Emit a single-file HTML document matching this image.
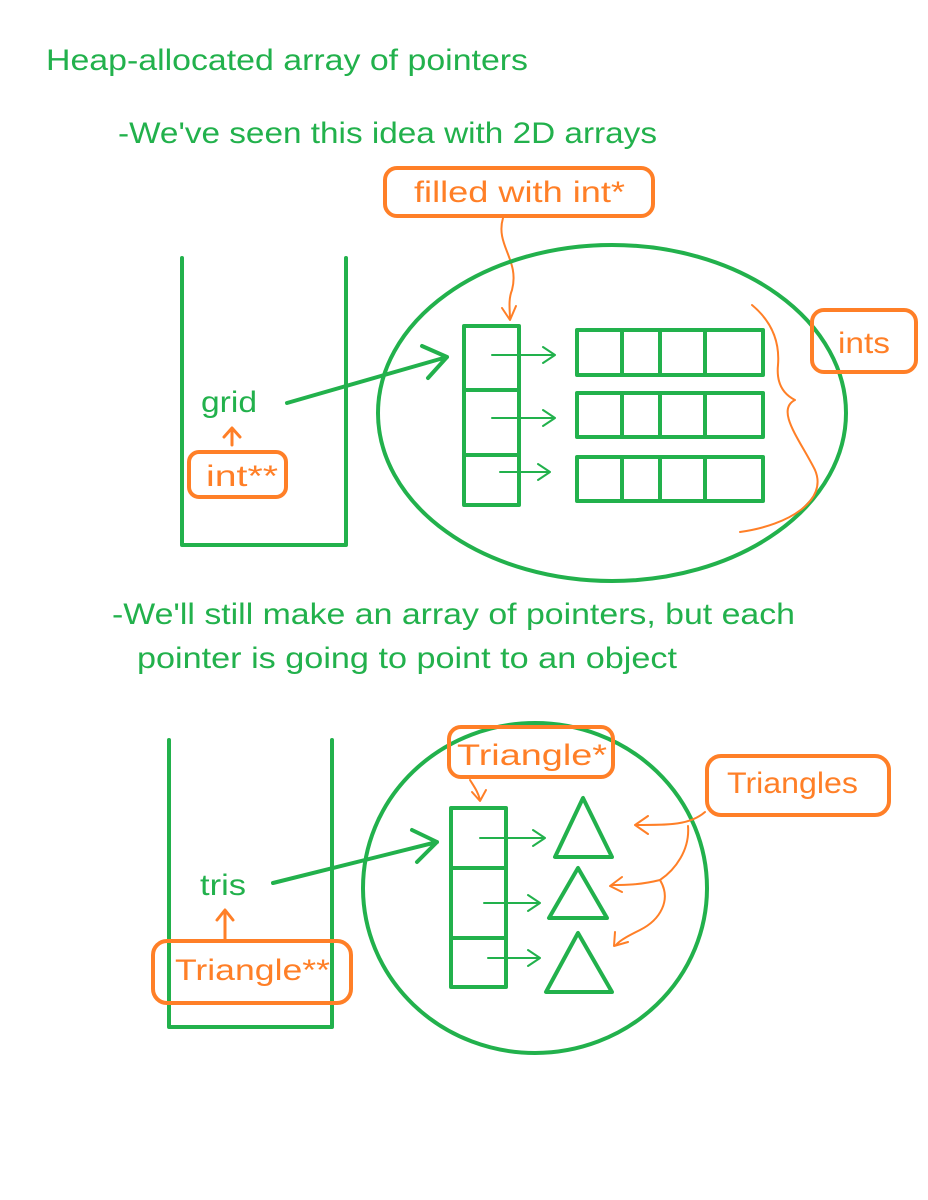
<!DOCTYPE html>
<html><head><meta charset="utf-8"><style>
html,body{margin:0;padding:0;background:#fff}
svg{display:block}
text{font-family:"Liberation Sans",sans-serif;font-size:30px}
.g{fill:#22b14c}.o{fill:#ff7f27}
</style></head><body>
<svg width="928" height="1200" viewBox="0 0 928 1200">
<g fill="none" stroke-linecap="round" stroke-linejoin="round">
<text x="46" y="70" textLength="482" lengthAdjust="spacingAndGlyphs" class="g" stroke="none">Heap-allocated array of pointers</text>
<text x="118" y="143" textLength="539" lengthAdjust="spacingAndGlyphs" class="g" stroke="none">-We've seen this idea with 2D arrays</text>
<g>
<rect x="385" y="168" width="268" height="48" rx="12" stroke="#ff7f27" stroke-width="4"/>
<text x="414" y="202" textLength="211" lengthAdjust="spacingAndGlyphs" class="o" stroke="none">filled with int*</text></g>
<path d="M503 218 C495 245,520 260,512 290 C508 300,510 310,510 320 M502 308 L510 320 L516 306" stroke="#ff7f27" stroke-width="2"/>
<path d="M182 258 V545 H346 V258" stroke="#22b14c" stroke-width="4"/>
<text x="201" y="412" textLength="56" lengthAdjust="spacingAndGlyphs" class="g" stroke="none">grid</text>
<path d="M287 403 L447 357 M422 346 L447 357 L428 378" stroke="#22b14c" stroke-width="4"/>
<path d="M232 445 V430 M224 437 L232 428 L240 437" stroke="#ff7f27" stroke-width="3"/>
<g>
<rect x="189" y="452" width="97" height="45" rx="10" stroke="#ff7f27" stroke-width="4"/>
<text x="206" y="486" textLength="72" lengthAdjust="spacingAndGlyphs" class="o" stroke="none">int**</text></g>
<ellipse cx="612" cy="413" rx="234" ry="168" stroke="#22b14c" stroke-width="4"/>
<path d="M464 326 H519 V505 H464 Z M464 390 H519 M464 455 H519" stroke="#22b14c" stroke-width="4"/>
<path d="M492 355 H555 M543 347 L555 355 L543 363 M492 418 H555 M543 410 L555 418 L543 426 M500 472 H550 M538 464 L550 472 L538 480" stroke="#22b14c" stroke-width="2"/>
<g stroke="#22b14c" stroke-width="4">
<path d="M577 330 H763 V375 H577 Z M622 330 V375 M660 330 V375 M705 330 V375"/>
<path d="M577 393 H763 V437 H577 Z M622 393 V437 M660 393 V437 M705 393 V437"/>
<path d="M577 457 H763 V501 H577 Z M622 457 V501 M660 457 V501 M705 457 V501"/>
</g>
<path d="M752 305 C770 320,780 340,778 365 C776 385,785 395,795 400 C775 410,800 440,815 470 C828 500,790 525,740 532" stroke="#ff7f27" stroke-width="2"/>
<g>
<rect x="812" y="310" width="104" height="62" rx="12" stroke="#ff7f27" stroke-width="4"/>
<text x="838" y="353" textLength="52" lengthAdjust="spacingAndGlyphs" class="o" stroke="none">ints</text></g>
<text x="112" y="624" textLength="683" lengthAdjust="spacingAndGlyphs" class="g" stroke="none">-We'll still make an array of pointers, but each</text>
<text x="137" y="668" textLength="540" lengthAdjust="spacingAndGlyphs" class="g" stroke="none">pointer is going to point to an object</text>
<path d="M169 740 V1027 H332 V740" stroke="#22b14c" stroke-width="4"/>
<text x="200" y="895" textLength="46" lengthAdjust="spacingAndGlyphs" class="g" stroke="none">tris</text>
<path d="M273 883 L437 842 M412 830 L437 842 L417 862" stroke="#22b14c" stroke-width="4"/>
<path d="M225 940 V912 M217 920 L225 910 L233 920" stroke="#ff7f27" stroke-width="3"/>
<g>
<rect x="153" y="941" width="198" height="62" rx="14" stroke="#ff7f27" stroke-width="4"/>
<text x="175" y="980" textLength="155" lengthAdjust="spacingAndGlyphs" class="o" stroke="none">Triangle**</text></g>
<ellipse cx="535" cy="888" rx="172" ry="165" stroke="#22b14c" stroke-width="4"/>
<g>
<rect x="449" y="727" width="164" height="50" rx="12" stroke="#ff7f27" stroke-width="4"/>
<text x="457" y="765" textLength="150" lengthAdjust="spacingAndGlyphs" class="o" stroke="none">Triangle*</text></g>
<path d="M470 780 C475 788,478 792,480 800 M472 792 L480 801 L486 790" stroke="#ff7f27" stroke-width="2"/>
<path d="M451 808 H506 V987 H451 Z M451 868 H506 M451 938 H506" stroke="#22b14c" stroke-width="4"/>
<path d="M480 838 H545 M533 830 L545 838 L533 846 M484 903 H540 M528 895 L540 903 L528 911 M488 958 H540 M528 950 L540 958 L528 966" stroke="#22b14c" stroke-width="2"/>
<g stroke="#22b14c" stroke-width="4">
<path d="M583 798 L555 857 L612 857 Z"/>
<path d="M578 868 L549 918 L607 918 Z"/>
<path d="M578 933 L546 992 L612 992 Z"/>
</g>
<g>
<rect x="707" y="756" width="182" height="59" rx="14" stroke="#ff7f27" stroke-width="4"/>
<text x="727" y="793" textLength="131" lengthAdjust="spacingAndGlyphs" class="o" stroke="none">Triangles</text></g>
<path d="M705 812 C690 825,670 825,636 825 M648 816 L635 825 L648 834" stroke="#ff7f27" stroke-width="2"/>
<path d="M688 826 C690 850,675 870,660 880 C640 885,625 885,612 885 M622 877 L610 886 L622 892" stroke="#ff7f27" stroke-width="2"/>
<path d="M660 880 C672 900,660 920,640 930 C630 935,620 940,616 945 M615 932 L614 946 L628 942" stroke="#ff7f27" stroke-width="2"/>
</g>
</svg>
</body></html>
